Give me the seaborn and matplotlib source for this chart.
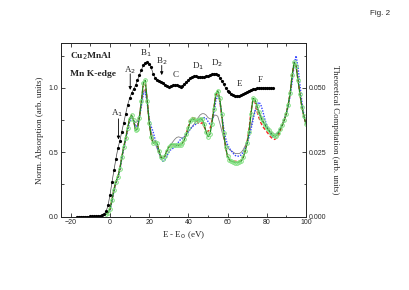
import numpy as np
import pandas as pd
import matplotlib
matplotlib.use("Agg")
import matplotlib.pyplot as plt
import seaborn as sns
from matplotlib.ticker import MultipleLocator

# ---------------- data ----------------
# experimental Mn K-edge (left axis)
exp_x = list(range(-17, 84))
exp_y = [0.0, 0.0, 0.0, 0.0, 0.0, 0.001, 0.001, 0.002, 0.002, 0.002,   # -17..-8
         0.003, 0.005, 0.008, 0.012, 0.02, 0.04, 0.09,                  # -7..-1
         0.17, 0.27, 0.36, 0.45, 0.53, 0.59, 0.66, 0.73, 0.80, 0.87,   # 0..9
         0.92, 0.96, 0.99, 1.02, 1.06, 1.10, 1.14, 1.175, 1.195, 1.20, # 10..19
         1.19, 1.16, 1.11, 1.08, 1.065, 1.055, 1.045, 1.035, 1.025, 1.015,  # 20..29
         1.01, 1.015, 1.02, 1.02, 1.02, 1.015, 1.01, 1.015, 1.03, 1.045,   # 30..39
         1.06, 1.075, 1.085, 1.09, 1.09, 1.085, 1.085, 1.085, 1.085, 1.09, # 40..49
         1.095, 1.10, 1.105, 1.11, 1.11, 1.10, 1.08, 1.055, 1.03, 1.0,     # 50..59
         0.98, 0.965, 0.955, 0.945, 0.94, 0.94, 0.94, 0.945, 0.95, 0.96,   # 60..69
         0.97, 0.98, 0.985, 0.99, 0.995, 0.997, 1.0, 1.0, 1.0, 1.0,        # 70..79
         1.0, 1.0, 1.0, 0.998]                                              # 80..83

# theoretical curves (right axis), read in units of the right-axis scale / 0.05
theo_x = list(range(-2, 101))
green = [0.02, 0.03, 0.06, 0.13, 0.21, 0.27, 0.31, 0.37, 0.46, 0.54, 0.61, 0.69,   # -2..9
         0.76, 0.79, 0.75, 0.67, 0.68, 0.77, 0.90, 1.04, 1.06, 0.90,               # 10..19
         0.73, 0.62, 0.57, 0.58, 0.57, 0.51, 0.46, 0.45, 0.47, 0.51,               # 20..29
         0.54, 0.56, 0.56, 0.56, 0.555, 0.555, 0.56, 0.57, 0.60, 0.64,             # 30..39
         0.69, 0.74, 0.76, 0.755, 0.745, 0.75, 0.76, 0.76, 0.72, 0.66,             # 40..49
         0.62, 0.64, 0.72, 0.84, 0.95, 0.98, 0.92, 0.80, 0.65, 0.54,               # 50..59
         0.47, 0.44, 0.43, 0.425, 0.42, 0.42, 0.425, 0.43, 0.46, 0.51,             # 60..69
         0.57, 0.66, 0.80, 0.92, 0.91, 0.86, 0.81, 0.77, 0.74, 0.715,              # 70..79
         0.69, 0.67, 0.65, 0.635, 0.625, 0.63, 0.65, 0.68, 0.71, 0.75,             # 80..89
         0.80, 0.87, 0.96, 1.10, 1.20, 1.17, 1.06, 0.95, 0.85, 0.78, 0.72]         # 90..100
red = [0.02, 0.03, 0.06, 0.13, 0.21, 0.27, 0.31, 0.37, 0.46, 0.54, 0.61, 0.69,
       0.76, 0.79, 0.75, 0.68, 0.69, 0.77, 0.90, 1.02, 1.04, 0.90,
       0.73, 0.62, 0.57, 0.58, 0.57, 0.51, 0.46, 0.45, 0.47, 0.51,
       0.54, 0.56, 0.56, 0.56, 0.555, 0.555, 0.56, 0.57, 0.60, 0.65,
       0.70, 0.75, 0.77, 0.765, 0.75, 0.73, 0.72, 0.73, 0.70, 0.67,
       0.66, 0.68, 0.74, 0.84, 0.94, 0.97, 0.91, 0.79, 0.65, 0.54,
       0.47, 0.44, 0.43, 0.43, 0.43, 0.43, 0.43, 0.44, 0.46, 0.51,
       0.58, 0.68, 0.82, 0.91, 0.89, 0.82, 0.77, 0.73, 0.70, 0.68,
       0.66, 0.64, 0.62, 0.605, 0.60, 0.61, 0.63, 0.67, 0.71, 0.75,
       0.80, 0.87, 0.96, 1.10, 1.20, 1.17, 1.06, 0.95, 0.85, 0.78, 0.72]
blue = [0.02, 0.03, 0.05, 0.12, 0.20, 0.26, 0.30, 0.36, 0.45, 0.53, 0.60, 0.67,
        0.74, 0.77, 0.75, 0.70, 0.71, 0.77, 0.86, 0.95, 0.97, 0.88,
        0.76, 0.70, 0.66, 0.60, 0.55, 0.50, 0.45, 0.43, 0.44, 0.47,
        0.50, 0.52, 0.53, 0.54, 0.56, 0.58, 0.60, 0.61, 0.62, 0.64,
        0.66, 0.68, 0.70, 0.71, 0.72, 0.73, 0.745, 0.76, 0.77, 0.765,
        0.74, 0.72, 0.73, 0.80, 0.90, 0.94, 0.90, 0.80, 0.69, 0.61,
        0.56, 0.53, 0.51, 0.49, 0.475, 0.47, 0.47, 0.48, 0.50, 0.53,
        0.57, 0.62, 0.68, 0.75, 0.82, 0.87, 0.89, 0.87, 0.82, 0.76,
        0.71, 0.67, 0.64, 0.62, 0.62, 0.63, 0.65, 0.68, 0.71, 0.75,
        0.80, 0.86, 0.94, 1.05, 1.18, 1.25, 1.16, 1.02, 0.89, 0.79, 0.72]
gray = [0.02, 0.03, 0.06, 0.13, 0.21, 0.27, 0.31, 0.37, 0.46, 0.54, 0.61, 0.69,
        0.76, 0.77, 0.75, 0.73, 0.74, 0.79, 0.88, 0.97, 0.99, 0.88,
        0.74, 0.66, 0.61, 0.57, 0.53, 0.49, 0.465, 0.46, 0.48, 0.51,
        0.54, 0.56, 0.58, 0.60, 0.615, 0.62, 0.615, 0.61, 0.62, 0.64,
        0.66, 0.68, 0.70, 0.72, 0.745, 0.77, 0.79, 0.80, 0.80, 0.79,
        0.77, 0.76, 0.76, 0.78, 0.79, 0.78, 0.73, 0.67, 0.61, 0.57,
        0.54, 0.52, 0.51, 0.50, 0.49, 0.49, 0.49, 0.50, 0.52, 0.55,
        0.59, 0.64, 0.70, 0.77, 0.82, 0.84, 0.82, 0.79, 0.75, 0.72,
        0.70, 0.68, 0.66, 0.65, 0.64, 0.645, 0.66, 0.69, 0.72, 0.76,
        0.81, 0.88, 0.97, 1.09, 1.19, 1.18, 1.06, 0.95, 0.85, 0.78, 0.72]
THEORY_UNIT = 0.05  # right-axis value of one left-axis unit

# peak labels: (label, x, y)
peak_labels = [("A$_1$", 3.5, 0.80), ("A$_2$", 10.2, 1.14), ("B$_1$", 18.2, 1.27),
               ("B$_2$", 26.4, 1.21), ("C", 33.5, 1.10), ("D$_1$", 45.1, 1.17),
               ("D$_2$", 54.4, 1.19), ("E", 66.0, 1.03), ("F", 76.9, 1.065)]
# arrows: (x, y_start, y_end)
arrows = [(4.3, 0.76, 0.60), (10.3, 1.11, 0.985), (26.4, 1.175, 1.10)]

# ---------------- plot ----------------
sns.set_style("ticks")
serif = ["Liberation Serif", "DejaVu Serif"]
sans = ["Liberation Sans", "DejaVu Sans"]
plt.rcParams["font.family"] = sans

fig = plt.figure(figsize=(4.10, 2.90), dpi=100)
ax = fig.add_axes([0.149, 0.253, 0.597, 0.599])
ax2 = ax.twinx()

df_t = pd.DataFrame({"x": theo_x,
                     "green": np.array(green) * THEORY_UNIT,
                     "red": np.array(red) * THEORY_UNIT,
                     "blue": np.array(blue) * THEORY_UNIT,
                     "gray": np.array(gray) * THEORY_UNIT})
sns.lineplot(data=df_t, x="x", y="gray", ax=ax2, color="#808080", lw=0.6)
sns.lineplot(data=df_t, x="x", y="blue", ax=ax2, color="#3344ff", lw=1.0, linestyle=(0, (1, 1)))
sns.lineplot(data=df_t, x="x", y="red", ax=ax2, color="#ff2020", lw=1.0, linestyle=(0, (2.5, 1.5)))
sns.lineplot(data=df_t, x="x", y="green", ax=ax2, color="#1f8a1f", lw=0.9,
             marker="o", markersize=2.6, markerfacecolor="none",
             markeredgecolor="#7fe07f", markeredgewidth=0.7)

df_e = pd.DataFrame({"x": exp_x, "y": exp_y})
sns.lineplot(data=df_e, x="x", y="y", ax=ax, color="#404040", lw=0.5,
             marker="o", markersize=2.3, markerfacecolor="black",
             markeredgecolor="black", markeredgewidth=0)
ax.set_zorder(ax2.get_zorder() + 1)
ax.patch.set_visible(False)

ax.set_xlim(-25, 100)
ax.set_ylim(0, 1.35)
ax2.set_ylim(0, 1.35 * THEORY_UNIT)

ax.xaxis.set_major_locator(MultipleLocator(20))
ax.xaxis.set_minor_locator(MultipleLocator(10))
ax.yaxis.set_major_locator(MultipleLocator(0.5))
ax.yaxis.set_minor_locator(MultipleLocator(0.25))
ax2.yaxis.set_major_locator(MultipleLocator(0.025))
ax2.yaxis.set_minor_locator(MultipleLocator(0.0125))
ax.yaxis.set_major_formatter(matplotlib.ticker.FormatStrFormatter("%.1f"))
ax2.yaxis.set_major_formatter(matplotlib.ticker.FormatStrFormatter("%.3f"))

for a in (ax, ax2):
    a.tick_params(which="both", direction="in", labelsize=5, width=0.6, pad=2)
    a.tick_params(which="major", length=3)
    a.tick_params(which="minor", length=1.8)
    for s in a.spines.values():
        s.set_linewidth(0.7)
        s.set_visible(True)
ax.tick_params(which="both", top=True, right=False)
ax2.tick_params(which="both", right=True, left=False)

ax.set_xlabel("E - E$_0$ (eV)", family=serif, fontsize=6.5, labelpad=2)
ax.set_ylabel("Norm. Absorption (arb. units)", family=serif, fontsize=6.5, labelpad=3)
ax2.set_ylabel("Theoretical Computation (arb. units)", family=serif, fontsize=6.3,
               rotation=-90, labelpad=9)

ax.text(-20.7, 1.25, "Cu$_2$MnAl", family=serif, fontsize=6.8, fontweight="bold", va="center")
ax.text(-20.7, 1.11, "Mn K-edge", family=serif, fontsize=6.8, fontweight="bold", va="center")
for lab, x, y in peak_labels:
    ax.text(x, y, lab, family=serif, fontsize=6.5, ha="center", va="center")
for x, y0, y1 in arrows:
    ax.annotate("", xy=(x, y1), xytext=(x, y0),
                arrowprops=dict(arrowstyle="-|>", color="black", lw=0.6,
                                mutation_scale=4.5, shrinkA=0, shrinkB=0))

fig.text(0.927, 0.952, "Fig. 2", fontsize=5.8, family=sans, ha="center", va="center")

fig.savefig("out.png", dpi=100)
